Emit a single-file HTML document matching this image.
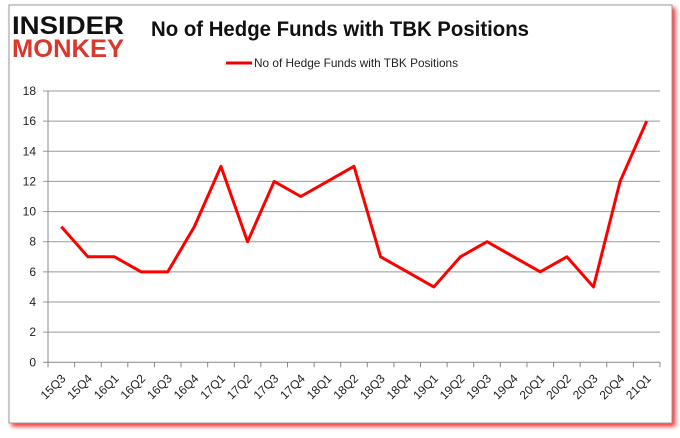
<!DOCTYPE html>
<html><head><meta charset="utf-8"><style>
body{margin:0;background:#fff;width:680px;height:433px;overflow:hidden;font-family:"Liberation Sans",sans-serif}
</style></head><body>
<svg width="680" height="433">
<rect x="9" y="5" width="663" height="418" fill="#fff" stroke="#999" stroke-width="1" style="filter:drop-shadow(3px 3px 2px #f33)"/>
<g font-family="Liberation Sans" font-weight="bold">
<text x="12" y="34" font-size="25" fill="#111" textLength="112" lengthAdjust="spacingAndGlyphs">INSIDER</text>
<text x="12" y="57" font-size="25" fill="#d9382c" textLength="112" lengthAdjust="spacingAndGlyphs">MONKEY</text>
</g>
<text x="340" y="36" font-size="21" font-weight="bold" text-anchor="middle" fill="#111" textLength="378" lengthAdjust="spacingAndGlyphs">No of Hedge Funds with TBK Positions</text>
<g>
<line x1="226" y1="63" x2="252" y2="63" stroke="#e00" stroke-width="3"/>
<text x="254" y="67" font-size="12" fill="#222" textLength="204" lengthAdjust="spacingAndGlyphs">No of Hedge Funds with TBK Positions</text>
</g>
<g id="grid"></g><g id="xax"></g>
<polyline id="series" fill="none" stroke="#f00" stroke-width="3" stroke-linejoin="round"/>
</svg>
<script>
const categories=["15Q3","15Q4","16Q1","16Q2","16Q3","16Q4","17Q1","17Q2","17Q3","17Q4","18Q1","18Q2","18Q3","18Q4","19Q1","19Q2","19Q3","19Q4","20Q1","20Q2","20Q3","20Q4","21Q1"];
const values=[9,7,7,6,6,9,13,8,12,11,12,13,7,6,5,7,8,7,6,7,5,12,16];
const yTicks=[0,2,4,6,8,10,12,14,16,18];
const L=48,R=660,T=91,B=362.3,yMax=18;
const NS="http://www.w3.org/2000/svg";
const band=(R-L)/categories.length;
const x=i=>L+band*(i+0.5);
const y=v=>B-(B-T)*v/yMax;
const g=document.getElementById('grid'),xa=document.getElementById('xax');
function mk(tag,attrs,parent){const e=document.createElementNS(NS,tag);for(const k in attrs)e.setAttribute(k,attrs[k]);parent.appendChild(e);return e;}
yTicks.forEach(v=>{
 const ln=mk('line',{x1:L-5,x2:R,y1:y(v),y2:y(v),stroke:v===0?'#888':'#999','stroke-width':1},g);
 
 
 const t=mk('text',{x:L-12,y:y(v)+4,'font-size':12,'text-anchor':'end',fill:'#222'},g);
 t.textContent=v;
 
 
});
mk('line',{x1:L,x2:L,y1:T,y2:B,stroke:'#888'},g);
for(let i=0;i<=categories.length;i++){mk('line',{x1:L+band*i,x2:L+band*i,y1:B,y2:B+5,stroke:'#888'},xa);}
categories.forEach((c,i)=>{
 const t=mk('text',{x:x(i)+5,y:B+17,'font-size':12,'text-anchor':'end',fill:'#222',transform:`rotate(-45 ${x(i)+5} ${B+17})`},xa);
 t.textContent=c;
 
 
});
document.getElementById('series').setAttribute('points',values.map((v,i)=>x(i)+','+y(v)).join(' '));
</script>
</body></html>
